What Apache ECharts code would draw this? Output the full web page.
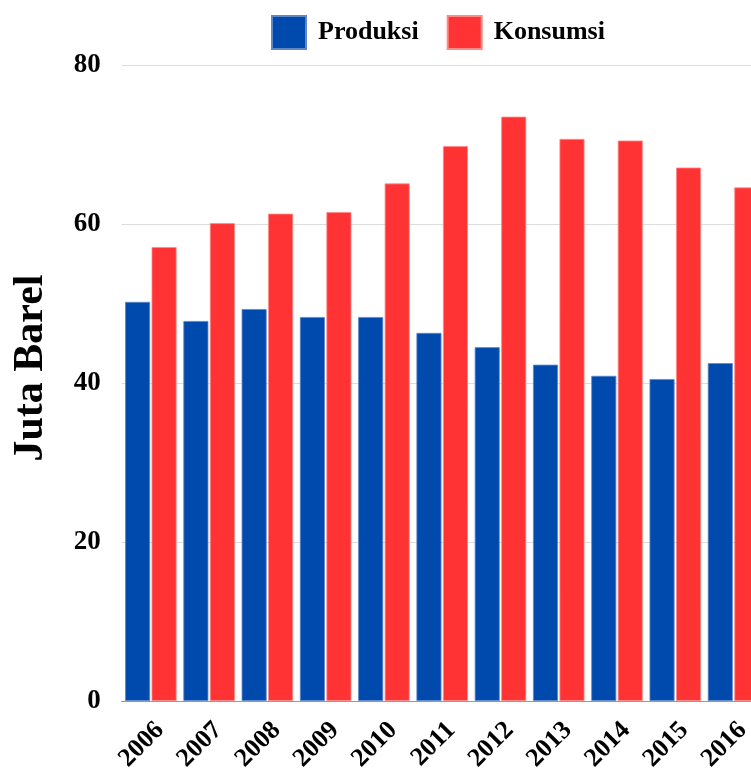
<!DOCTYPE html>
<html>
<head>
<meta charset="utf-8">
<script src="https://cdn.jsdelivr.net/npm/echarts@6/dist/echarts.min.js"></script>
<style>html,body{margin:0;padding:0;background:#fff;}#c{width:751px;height:774px;}</style>
</head>
<body>
<div id="c"></div>
<script>
const years = ['2006','2007','2008','2009','2010','2011','2012','2013','2014','2015','2016'];
const produksi = [50.2, 47.8, 49.3, 48.3, 48.3, 46.3, 44.5, 42.3, 40.9, 40.5, 42.5];
const konsumsi = [57.1, 60.1, 61.3, 61.5, 65.1, 69.8, 73.5, 70.7, 70.5, 67.1, 64.6];
const yTicks = [0, 20, 40, 60, 80];

const font = 'Liberation Serif';
const chart = echarts.init(document.getElementById('c'), null, {renderer: 'canvas'});
chart.setOption({
  animation: false,
  backgroundColor: '#fff',
  legend: {
    top: 15,
    left: 271,
    padding: 0,
    icon: 'rect',
    itemWidth: 34,
    itemHeight: 33,
    itemGap: 28,
    textStyle: {fontFamily: font, fontWeight: 'bold', fontSize: 26, color: '#000', padding: [0, 0, 0, 7]},
    data: ['Produksi', 'Konsumsi']
  },
  grid: {left: 121.7, width: 641, top: 65, bottom: 73, containLabel: false, outerBoundsMode: 'none'},
  xAxis: {
    type: 'category',
    data: years,
    axisLine: {lineStyle: {color: '#999', width: 1}},
    axisTick: {show: false},
    axisLabel: {rotate: 45, align: 'right', verticalAlign: 'top', fontFamily: font, fontWeight: 'bold', fontSize: 26, color: '#000', margin: 16}
  },
  yAxis: {
    type: 'value',
    min: yTicks[0],
    max: yTicks[yTicks.length - 1],
    interval: 20,
    name: 'Juta Barel',
    nameLocation: 'middle',
    nameGap: 70,
    nameTextStyle: {fontFamily: font, fontWeight: 'bold', fontSize: 42, color: '#000', padding: [0, 0, 0, 30]},
    axisLine: {show: false},
    axisTick: {show: false},
    splitLine: {lineStyle: {color: '#dcdcdc', width: 1}},
    axisLabel: {fontFamily: font, fontWeight: 'bold', fontSize: 27, color: '#000', margin: 21}
  },
  series: [
    {
      name: 'Produksi', type: 'bar', data: produksi,
      barWidth: 25, barGap: '6%',
      itemStyle: {color: '#004aad', borderColor: '#5d87c9', borderWidth: 0.8}
    },
    {
      name: 'Konsumsi', type: 'bar', data: konsumsi,
      barWidth: 25, barGap: '6%',
      itemStyle: {color: '#ff3333', borderColor: '#ff8a8a', borderWidth: 0.8}
    }
  ]
});
</script>
</body>
</html>
